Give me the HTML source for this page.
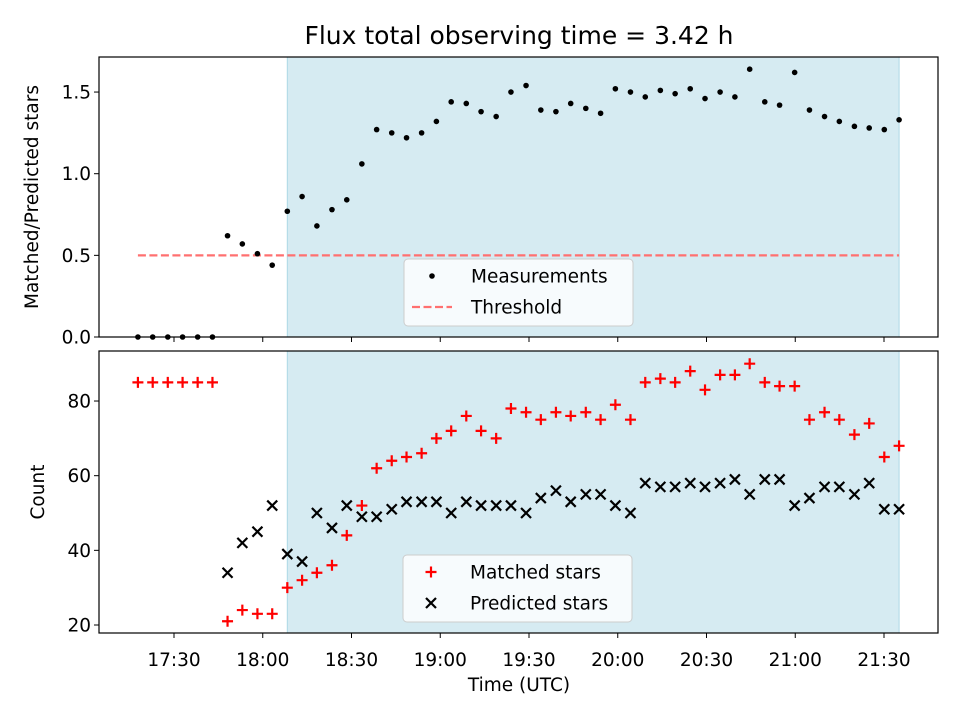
<!DOCTYPE html>
<html><head><meta charset="utf-8"><style>
body{margin:0;background:#fff;}
svg{display:block;font-family:"DejaVu Sans","Liberation Sans",sans-serif;}
</style></head><body>
<svg id="chart" width="960" height="720" viewBox="0 0 960 720"></svg>
<script>
const times=[1037.8,1042.8,1047.9,1052.9,1058.0,1063.0,1068.1,1073.1,1078.2,1083.2,1088.3,1093.3,1098.3,1103.4,1108.4,1113.5,1118.5,1123.6,1128.6,1133.7,1138.7,1143.7,1148.8,1153.8,1158.9,1163.9,1169.0,1174.0,1179.1,1184.1,1189.2,1194.2,1199.2,1204.3,1209.3,1214.4,1219.4,1224.5,1229.5,1234.6,1239.6,1244.6,1249.7,1254.7,1259.8,1264.8,1269.9,1274.9,1280.0,1285.0,1290.1,1295.1];
const ratio=[0,0,0,0,0,0,0.62,0.57,0.51,0.44,0.77,0.86,0.68,0.78,0.84,1.06,1.27,1.25,1.22,1.25,1.32,1.44,1.43,1.38,1.35,1.50,1.54,1.39,1.38,1.43,1.40,1.37,1.52,1.50,1.47,1.51,1.49,1.52,1.46,1.50,1.47,1.64,1.44,1.42,1.62,1.39,1.35,1.32,1.29,1.28,1.27,1.33];
const matched=[85,85,85,85,85,85,21,24,23,23,30,32,34,36,44,52,62,64,65,66,70,72,76,72,70,78,77,75,77,76,77,75,79,75,85,86,85,88,83,87,87,90,85,84,84,75,77,75,71,74,65,68];
const predicted=[null,null,null,null,null,null,34,42,45,52,39,37,50,46,52,49,49,51,53,53,53,50,53,52,52,52,50,54,56,53,55,55,52,50,58,57,57,58,57,58,59,55,59,59,52,54,57,57,55,58,51,51];
const threshold=0.5;
const xTickLabels=["17:30","18:00","18:30","19:00","19:30","20:00","20:30","21:00","21:30"];
const xTickMinutes=[1050,1080,1110,1140,1170,1200,1230,1260,1290];
const topTicks=[0.0,0.5,1.0,1.5];
const botTicks=[20,40,60,80];
const spanStart=10, spanEnd=51;

const NS="http://www.w3.org/2000/svg";
const svg=document.getElementById('chart');
const L=99,R=938;
const FS=18.5;
const xs=t=>174+(t-1050)/30*88.75;
const yTop=v=>337-v*163.3;
const yBot=v=>625-(v-20)*3.733;
function el(tag,attrs,parent){const e=document.createElementNS(NS,tag);for(const k in attrs)e.setAttribute(k,attrs[k]);(parent||svg).appendChild(e);return e;}
function txt(s,attrs){const e=el('text',attrs);e.textContent=s;return e;}

const title=txt("Flux total observing time = 3.42 h",{x:519,y:44,'text-anchor':'middle','font-size':25});



function panel(y0,y1,name){
  const g=el('g',{});
  
  
  const sp=el('rect',{x:xs(times[spanStart]),y:y0,width:xs(times[spanEnd])-xs(times[spanStart]),height:y1-y0,fill:'#add8e6','fill-opacity':0.5,stroke:'#add8e6'},g);
  
  
  return g;
}
function frame(y0,y1,g){el('rect',{x:L,y:y0,width:R-L,height:y1-y0,fill:'none',stroke:'#000','stroke-width':1.2},g);}

// Top panel
const gt=panel(57,337,'ratio-panel');
const th=el('line',{x1:xs(times[0]),x2:xs(times[51]),y1:yTop(threshold),y2:yTop(threshold),stroke:'#ff7070','stroke-width':2.2,'stroke-dasharray':'8,3.5'},gt);


ratio.forEach((v,i)=>{
  const c=el('circle',{cx:xs(times[i]),cy:yTop(v),r:2.8,fill:'#000'},gt);
  
  
});
frame(57,337,gt);
topTicks.forEach(v=>{
  const y=yTop(v);
  el('line',{x1:L-5,x2:L,y1:y,y2:y,stroke:'#000'});
  const t=txt(v.toFixed(1),{x:L-8,y:y+6.5,'text-anchor':'end','font-size':FS});
  
  
});
xTickMinutes.forEach(m=>el('line',{x1:xs(m),x2:xs(m),y1:337,y2:342,stroke:'#000'}));
const yt1=txt("Matched/Predicted stars",{x:38,y:197,'text-anchor':'middle','font-size':FS,transform:'rotate(-90 38 197)'});



// Bottom panel
const gb=panel(351,633,'count-panel');
matched.forEach((v,i)=>{
  if(v==null)return;
  const x=xs(times[i]),y=yBot(v);
  const p=el('path',{d:`M${x-5.5},${y}H${x+5.5}M${x},${y-5.5}V${y+5.5}`,stroke:'#f00','stroke-width':2.2},gb);
  
  
});
predicted.forEach((v,i)=>{
  if(v==null)return;
  const x=xs(times[i]),y=yBot(v);
  const p=el('path',{d:`M${x-5},${y-5}L${x+5},${y+5}M${x-5},${y+5}L${x+5},${y-5}`,stroke:'#000','stroke-width':2.2},gb);
  
  
});
frame(351,633,gb);
botTicks.forEach(v=>{
  const y=yBot(v);
  el('line',{x1:L-5,x2:L,y1:y,y2:y,stroke:'#000'});
  const t=txt(String(v),{x:L-8,y:y+6.5,'text-anchor':'end','font-size':FS});
  
  
});
xTickMinutes.forEach((m,i)=>{
  el('line',{x1:xs(m),x2:xs(m),y1:633,y2:638,stroke:'#000'});
  const t=txt(xTickLabels[i],{x:xs(m),y:666,'text-anchor':'middle','font-size':FS});
  
  
});
const yt2=txt("Count",{x:44,y:492,'text-anchor':'middle','font-size':FS,transform:'rotate(-90 44 492)'});


const xt=txt("Time (UTC)",{x:519,y:691,'text-anchor':'middle','font-size':FS});



// Legends
function legend(x,y,items,name){
  const g=el('g',{});
  
  
  el('rect',{x:x,y:y,width:229,height:67,rx:4,fill:'#fff','fill-opacity':0.8,stroke:'#ccc'},g);
  items.forEach((it,k)=>{
    const cy=y+17+k*31,cx=x+28;
    if(it.type==='dot')el('circle',{cx:cx,cy:cy,r:2.8,fill:'#000'},g);
    if(it.type==='dash')el('line',{x1:cx-20,x2:cx+20,y1:cy,y2:cy,stroke:'#ff7070','stroke-width':2.2,'stroke-dasharray':'8,3.5'},g);
    if(it.type==='plus')el('path',{d:`M${cx-5.5},${cy}H${cx+5.5}M${cx},${cy-5.5}V${cy+5.5}`,stroke:'#f00','stroke-width':2.2},g);
    if(it.type==='x')el('path',{d:`M${cx-5},${cy-5}L${cx+5},${cy+5}M${cx-5},${cy+5}L${cx+5},${cy-5}`,stroke:'#000','stroke-width':2.2},g);
    const t=el('text',{x:x+67,y:cy+6.5,'font-size':FS},g);
    t.textContent=it.label;
    
    
  });
}
legend(404,259,[{type:'dot',label:'Measurements'},{type:'dash',label:'Threshold'}],'ratio-legend');
legend(403,555,[{type:'plus',label:'Matched stars'},{type:'x',label:'Predicted stars'}],'count-legend');
</script>
</body></html>
